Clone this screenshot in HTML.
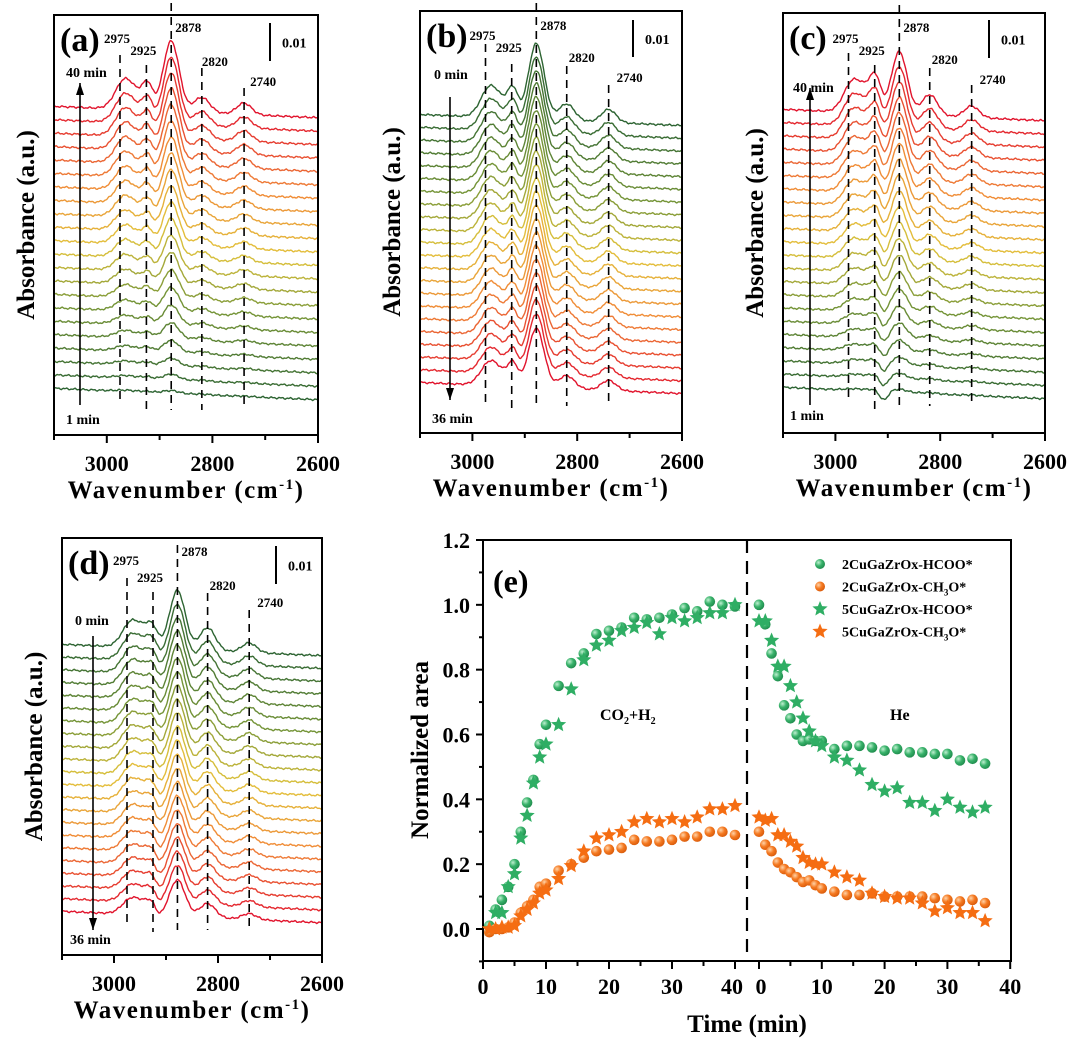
<!DOCTYPE html>
<html><head><meta charset="utf-8">
<style>
html,body{margin:0;padding:0;background:#fff;}
svg{display:block;}
text{font-family:"Liberation Serif",serif;font-weight:bold;}
</style></head>
<body>
<svg id="fig" width="1080" height="1047" viewBox="0 0 1080 1047" xmlns="http://www.w3.org/2000/svg">
<defs>
<radialGradient id="gG" cx="0.35" cy="0.35" r="0.7"><stop offset="0" stop-color="#bff0d0"/><stop offset="0.5" stop-color="#38b26a"/><stop offset="1" stop-color="#1f8a4c"/></radialGradient>
<radialGradient id="gO" cx="0.35" cy="0.35" r="0.7"><stop offset="0" stop-color="#ffd3a8"/><stop offset="0.5" stop-color="#f57a22"/><stop offset="1" stop-color="#d85a0a"/></radialGradient>
</defs>
</svg>
<script>
// ===== Panel (e) data =====
const tGas = [1,2,3,4,5,6,7,8,9,10,12,14,16,18,20,22,24,26,28,30,32,34,36,38,40];
const tHe = [0,1,2,3,4,5,6,7,8,9,10,12,14,16,18,20,22,24,26,28,30,32,34,36];
const hcoo2Gas = [0.01,0.06,0.09,0.13,0.2,0.3,0.39,0.46,0.57,0.63,0.75,0.82,0.85,0.91,0.92,0.93,0.96,0.955,0.96,0.97,0.99,0.98,1.01,1.0,0.995];
const hcoo2He = [1.0,0.94,0.85,0.78,0.69,0.65,0.60,0.58,0.585,0.58,0.58,0.555,0.565,0.565,0.56,0.55,0.555,0.545,0.545,0.54,0.54,0.52,0.525,0.51];
const ch3o2Gas = [-0.01,0.0,0.0,0.005,0.02,0.05,0.07,0.09,0.13,0.14,0.18,0.2,0.22,0.24,0.245,0.25,0.275,0.27,0.27,0.275,0.285,0.285,0.3,0.3,0.29];
const ch3o2He = [0.3,0.26,0.24,0.205,0.185,0.175,0.16,0.145,0.15,0.135,0.125,0.115,0.105,0.105,0.11,0.1,0.1,0.1,0.1,0.095,0.09,0.085,0.09,0.08];
const hcoo5Gas = [0.0,0.05,0.05,0.13,0.17,0.28,0.35,0.45,0.53,0.57,0.63,0.74,0.83,0.875,0.89,0.92,0.93,0.945,0.91,0.96,0.95,0.96,0.975,0.975,1.0];
const hcoo5He = [0.95,0.95,0.89,0.81,0.81,0.75,0.7,0.65,0.61,0.58,0.565,0.53,0.52,0.49,0.445,0.425,0.435,0.39,0.39,0.365,0.4,0.375,0.36,0.375];
const ch3o5Gas = [0.0,0.0,0.005,0.005,0.01,0.04,0.06,0.08,0.11,0.12,0.155,0.195,0.24,0.28,0.29,0.3,0.33,0.34,0.33,0.34,0.33,0.345,0.37,0.37,0.38];
const ch3o5He = [0.345,0.335,0.34,0.29,0.29,0.27,0.255,0.22,0.205,0.2,0.2,0.175,0.16,0.15,0.11,0.1,0.095,0.095,0.08,0.055,0.065,0.05,0.05,0.025];
const yTicksE = [0.0,0.2,0.4,0.6,0.8,1.0,1.2];
const xTicksE = [0,10,20,30,40];

// ===== Spectra data (amplitudes in units of 0.01 a.u.) =====
const peakPos = [2965,2930,2922,2878,2820,2740];
const peakWid = [18,14,9,15,15,14];
const ampA = [0.8,0.3,0.45,1.85,0.4,0.3];
const ampB = [0.85,0.3,0.55,2.05,0.45,0.35];
const ampC = [0.85,0.6,0.45,1.65,0.55,0.3];
const ampD = [0.7,0.5,0.15,1.55,0.6,0.25];
const growA = [0.04,0.08,0.12,0.18,0.24,0.3,0.36,0.42,0.48,0.53,0.58,0.62,0.66,0.7,0.74,0.78,0.82,0.86,0.9,0.93,0.96,1.0];
const growC = [0.05,0.09,0.14,0.2,0.26,0.32,0.38,0.44,0.5,0.55,0.6,0.64,0.68,0.72,0.76,0.8,0.84,0.87,0.9,0.94,0.97,1.0];
const decayB = [0.78,0.8,0.82,0.83,0.84,0.85,0.86,0.87,0.88,0.89,0.9,0.91,0.92,0.93,0.94,0.95,0.96,0.97,0.98,0.98,0.99,1.0];
const decayD = [0.62,0.65,0.67,0.69,0.71,0.73,0.75,0.77,0.79,0.81,0.83,0.85,0.87,0.88,0.9,0.91,0.93,0.94,0.96,0.97,0.98,1.0];
const wnTicks = [3000,2800,2600];
const dashWn = [2975,2925,2878,2820,2740];

const NS='http://www.w3.org/2000/svg';
const svg=document.getElementById('fig');
function el(tag,attrs,parent){const e=document.createElementNS(NS,tag);for(const k in attrs)e.setAttribute(k,attrs[k]);(parent||svg).appendChild(e);return e;}
function txt(s,attrs,parent){const e=el('text',attrs,parent);e.textContent=s;return e;}

function lerpColor(t){
  const stops=[[0,[45,100,50]],[0.3,[120,150,55]],[0.5,[225,195,60]],[0.72,[240,140,55]],[1,[225,20,45]]];
  for(let i=1;i<stops.length;i++){if(t<=stops[i][0]){const a=stops[i-1],b=stops[i];const f=(t-a[0])/(b[0]-a[0]);return 'rgb('+a[1].map((v,j)=>Math.round(v+(b[1][j]-v)*f)).join(',')+')';}}
  return 'rgb(225,20,45)';
}

function panel(o){
  const g=el('g',{});
  
  
  const L=o.L,R=o.R,T=o.T,B=o.B;
  const xs=w=>L+(3100-w)*(R-L)/500;
  const n=o.fac.length;
  const bar=o.bar;
  for(let i=0;i<n;i++){
    const base=o.bot-(o.bot-o.top)*i/(n-1);
    let d='';
    for(let w=3100;w>=2600;w-=2){
      let y=0;
      for(let k=0;k<peakPos.length;k++){y+=o.amp[k]*o.fac[i]*Math.exp(-Math.pow((w-peakPos[k])/peakWid[k],2)/2);}
      if(o.dip)y+=o.dip[0]*(1-o.fac[i]*o.dip[2])*Math.exp(-Math.pow((w-o.dip[1])/8,2)/2);
      const wig=0.015*Math.sin(w*0.37+i*1.7)+0.012*Math.sin(w*0.83+i*2.9);
      const slope=(w-2850)*0.0006*o.slope;
      const py=base-(y+wig+slope)*bar;
      d+=(d?'L':'M')+xs(w).toFixed(1)+' '+py.toFixed(1);
    }
    const c=o.rev?lerpColor(1-i/(n-1)):lerpColor(i/(n-1));
    const p=el('path',{d:d,fill:'none',stroke:c,'stroke-width':1.4},g);
    
    
  }
  dashWn.forEach((w,k)=>{
    const l=el('line',{x1:xs(w),x2:xs(w),y1:o.dash[k][0],y2:o.dash[k][1],stroke:'#000','stroke-width':1.6,'stroke-dasharray':'8,6'},g);
    
    
    const t=txt(String(w),{x:xs(w)+o.lab[k][0],y:o.lab[k][1],'font-size':13},g);
    
    
  });
  const f=el('rect',{x:L,y:T,width:R-L,height:B-T,fill:'none',stroke:'#000','stroke-width':2},g);
  
  
  for(let w=3100;w>=2600;w-=100){el('line',{x1:xs(w),x2:xs(w),y1:B,y2:B+(w%200===0?8:5),stroke:'#000','stroke-width':2},g);}
  wnTicks.forEach(w=>{const t=txt(String(w),{x:xs(w),y:B+36,'font-size':22,'text-anchor':'middle'},g);
    
    });
  const xl=txt('',{x:(L+R)/2,y:B+63,'font-size':25,'text-anchor':'middle','letter-spacing':1.5},g);
  xl.innerHTML='Wavenumber (cm<tspan dy="-9" font-size="15">-1</tspan><tspan dy="9">)</tspan>';
  
  
  const yl=txt('Absorbance (a.u.)',{x:0,y:0,'font-size':25,'text-anchor':'middle',transform:'translate('+(L-20)+','+((T+B)/2)+') rotate(-90)'},g);
  
  
  const pl=txt(o.letter,{x:L+6,y:T+36,'font-size':34},g);
  
  
  el('line',{x1:o.sb[0],x2:o.sb[0],y1:o.sb[1],y2:o.sb[1]+bar,stroke:'#000','stroke-width':2},g);
  const sbt=txt('0.01',{x:o.sb[0]+12,y:o.sb[1]+bar*0.65,'font-size':14},g);
  
  
  const ax=o.arrow[0],a1=o.arrow[1],a2=o.arrow[2];
  el('line',{x1:ax,x2:ax,y1:a1,y2:a2,stroke:'#000','stroke-width':1.6},g);
  const dir=a2<a1?1:-1;
  el('path',{d:'M'+(ax-4)+' '+(a2+dir*12)+'L'+ax+' '+a2+'L'+(ax+4)+' '+(a2+dir*12)+'Z',fill:'#000'},g);
  txt(o.tTop,{x:o.tTopPos[0],y:o.tTopPos[1],'font-size':14},g);
  txt(o.tBot,{x:o.tBotPos[0],y:o.tBotPos[1],'font-size':14},g);
}

panel({name:'panel-a',letter:'(a)',L:54,R:318,T:15,B:435,top:112,bot:394,fac:growA,amp:ampA,bar:38,slope:1,rev:false,
  dash:[[55,403],[65,412],[3,410],[68,410],[88,408]],lab:[[-16,43],[-16,55],[4,32],[0,66],[6,86]],
  sb:[270,23],arrow:[80,405,83],tTop:'40 min',tTopPos:[66,77],tBot:'1 min',tBotPos:[66,424]});
panel({name:'panel-b',letter:'(b)',L:420,R:682,T:11,B:433,top:120,bot:388,fac:decayB,amp:ampB,bar:37,slope:1,rev:true,
  dash:[[44,405],[64,408],[3,406],[66,406],[85,405]],lab:[[-16,40],[-16,52],[4,30],[2,62],[8,82]],
  sb:[633,20],arrow:[450,97,400],tTop:'0 min',tTopPos:[434,79],tBot:'36 min',tBotPos:[432,423]});
panel({name:'panel-c',letter:'(c)',L:783,R:1045,T:13,B:433,top:115,bot:393,fac:growC,amp:ampC,bar:38,slope:1,rev:false,dip:[-0.25,2908,1.0],
  dash:[[53,400],[65,410],[5,408],[68,406],[85,405]],lab:[[-16,43],[-16,55],[4,32],[2,64],[8,84]],
  sb:[989,20],arrow:[810,405,88],tTop:'40 min',tTopPos:[793,92],tBot:'1 min',tBotPos:[790,420]});
panel({name:'panel-d',letter:'(d)',L:62,R:322,T:538,B:955,top:650,bot:917,fac:decayD,amp:ampD,bar:38,slope:1,rev:true,dip:[-0.4,2915,0.8],
  dash:[[578,924],[592,932],[545,930],[593,930],[610,930]],lab:[[-14,565],[-16,582],[4,556],[2,590],[8,607]],
  sb:[276,546],arrow:[93,636,930],tTop:'0 min',tTopPos:[75,625],tBot:'36 min',tBotPos:[70,944]});

// ===== Panel (e) =====
(function(){
  const g=el('g',{});
  
  
  const L=483,R=1011,T=540,B=961;
  const ys=v=>929-v*(929-540)/1.2;
  const xg=t=>483+t*6.3;
  const xh=t=>759+t*6.28;
  const f=el('rect',{x:L,y:T,width:R-L,height:B-T,fill:'none',stroke:'#000','stroke-width':2},g);
  
  
  yTicksE.forEach(v=>{
    el('line',{x1:L-7,x2:L,y1:ys(v),y2:ys(v),stroke:'#000','stroke-width':2},g);
    el('line',{x1:L-4,x2:L,y1:ys(v-0.1),y2:ys(v-0.1),stroke:'#000','stroke-width':2},g);
    const t=txt(v.toFixed(1),{x:L-13,y:ys(v)+8,'font-size':22,'text-anchor':'end'},g);
    
    
  });
  xTicksE.forEach(v=>{
    [xg,xh].forEach(fx=>{
      el('line',{x1:fx(v),x2:fx(v),y1:B,y2:B+8,stroke:'#000','stroke-width':2},g);
      if(v<40)el('line',{x1:fx(v+5),x2:fx(v+5),y1:B,y2:B+5,stroke:'#000','stroke-width':2},g);
    });
  });
  xTicksE.forEach(v=>{
    const a=txt(String(v),{x:xg(v)-(v===40?3:0),y:B+33,'font-size':22,'text-anchor':'middle'},g);
    
    
    const b=txt(String(v),{x:xh(v)+(v===0?2:0),y:B+33,'font-size':22,'text-anchor':'middle'},g);
    
    
  });
  const dl=el('line',{x1:747,x2:747,y1:T,y2:B,stroke:'#000','stroke-width':2.2,'stroke-dasharray':'13,8'},g);
  
  
  const xt=txt('Time (min)',{x:747,y:1032,'font-size':25,'text-anchor':'middle'},g);
  
  
  const yt=txt('Normalized area',{x:0,y:0,'font-size':25,'text-anchor':'middle',transform:'translate(428,750) rotate(-90)'},g);
  
  
  const pe=txt('(e)',{x:493,y:592,'font-size':32},g);
  
  
  const c1=txt('',{x:600,y:720,'font-size':16},g);
  c1.innerHTML='CO<tspan dy="4" font-size="10">2</tspan><tspan dy="-4">+H</tspan><tspan dy="4" font-size="10">2</tspan>';
  
  
  const c2=txt('He',{x:890,y:720,'font-size':16},g);
  
  

  function star(cx,cy,r,fill,parent){
    let d='';for(let k=0;k<10;k++){const a=-Math.PI/2+k*Math.PI/5;const rr=k%2?r*0.45:r;d+=(k?'L':'M')+(cx+rr*Math.cos(a)).toFixed(1)+' '+(cy+rr*Math.sin(a)).toFixed(1);}
    return el('path',{d:d+'Z',fill:fill},parent);
  }
  function series(tg,vg,th,vh,kind,col,name){
    const sg=el('g',{},g);
    
    
    const pts=tg.map((t,i)=>[xg(t),ys(vg[i])]).concat(th.map((t,i)=>[xh(t),ys(vh[i])]));
    pts.forEach(p=>{
      const m=kind==='c'?el('circle',{cx:p[0],cy:p[1],r:5.3,fill:col==='g'?'url(#gG)':'url(#gO)'},sg):star(p[0],p[1],8,col==='g'?'#2fae64':'#f56d12',sg);
      
      
    });
  }
  series(tGas,hcoo2Gas,tHe,hcoo2He,'c','g','series-2cu-hcoo');
  series(tGas,ch3o2Gas,tHe,ch3o2He,'c','o','series-2cu-ch3o');
  series(tGas,hcoo5Gas,tHe,hcoo5He,'s','g','series-5cu-hcoo');
  series(tGas,ch3o5Gas,tHe,ch3o5He,'s','o','series-5cu-ch3o');

  const lg=el('g',{},g);
  
  
  const labels=['2CuGaZrOx-HCOO*','2CuGaZrOx-CH<tspan dy="4" font-size="9">3</tspan><tspan dy="-4">O*</tspan>','5CuGaZrOx-HCOO*','5CuGaZrOx-CH<tspan dy="4" font-size="9">3</tspan><tspan dy="-4">O*</tspan>'];
  labels.forEach((s,k)=>{
    const y=564+k*22.5;
    if(k<2)el('circle',{cx:820,cy:y,r:5,fill:k===0?'url(#gG)':'url(#gO)'},lg);
    else star(820,y,8,k===2?'#2fae64':'#f56d12',lg);
    const t=txt('',{x:842,y:y+5,'font-size':14},lg);
    t.innerHTML=s;
    
    
  });
})();
</script>
</body></html>
